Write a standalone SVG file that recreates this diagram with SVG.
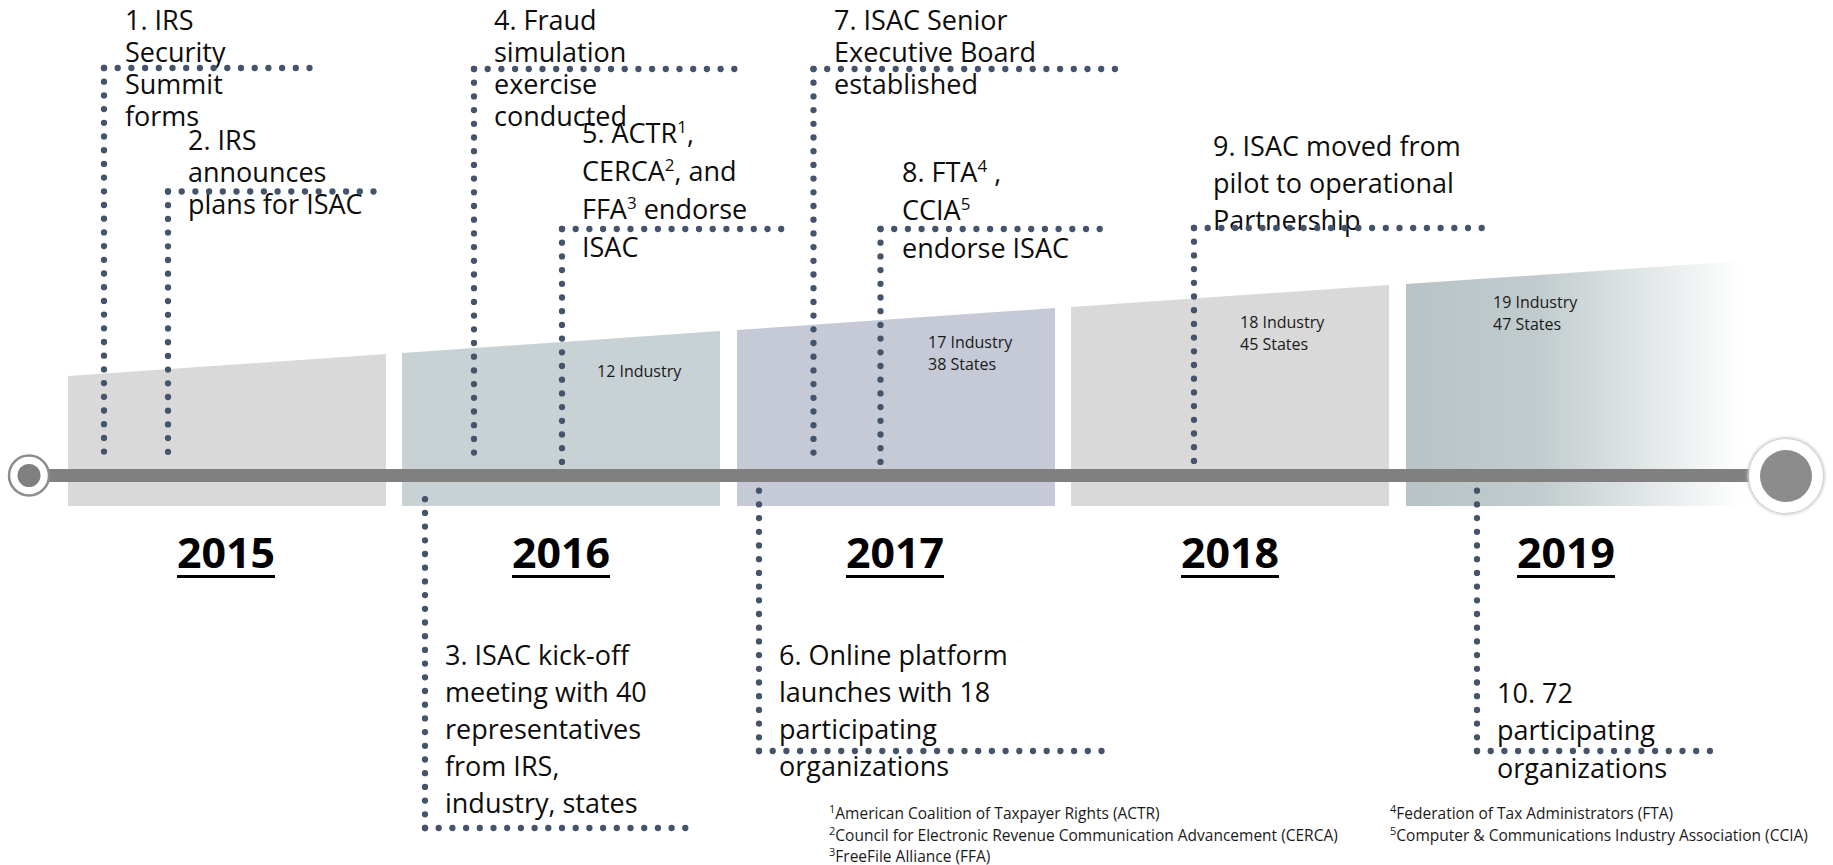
<svg xmlns="http://www.w3.org/2000/svg" width="1833" height="865" viewBox="0 0 1833 865">
  <style>
    .ev { font-family: "Open Sans", "Liberation Sans", sans-serif; font-size: 27px; fill: #0d0d0d; }
    .sup { font-size: 17px; }
    .cnt { font-family: "Open Sans", "Liberation Sans", sans-serif; font-size: 16px; fill: #1a1a1a; }
    .yr { font-family: "Open Sans", "Liberation Sans", sans-serif; font-size: 42px; font-weight: 700; fill: #000; }
    .fn { font-family: "Open Sans", "Liberation Sans", sans-serif; font-size: 15.5px; fill: #1a1a1a; }
    .fsup { font-size: 11px; }
    .dot { fill: none; stroke: #44546A; stroke-width: 6.3; stroke-linecap: round; stroke-dasharray: 0 13.7; }
  </style>
  <defs>
    <linearGradient id="fade2019" x1="0" y1="0" x2="1" y2="0">
      <stop offset="0" stop-color="#b7c3c6"/>
      <stop offset="0.4" stop-color="#c2ccce"/>
      <stop offset="0.72" stop-color="#e2e7e8"/>
      <stop offset="1" stop-color="#ffffff"/>
    </linearGradient>
    <filter id="soft" x="-20%" y="-20%" width="140%" height="140%">
      <feGaussianBlur stdDeviation="1.8"/>
    </filter>
  </defs>

  <rect width="1833" height="865" fill="#ffffff"/>

  <!-- yearly panels with rising top edge -->
  <g id="panels">
    <polygon points="68,376 386,354 386,506 68,506" fill="#d9d9d9"/>
    <polygon points="402,353 720,331 720,506 402,506" fill="#c8d2d5"/>
    <polygon points="737,330 1055,308 1055,506 737,506" fill="#c5cad6"/>
    <polygon points="1071,307 1389,285 1389,506 1071,506" fill="#d9d9d9"/>
    <polygon points="1406,284 1742,261 1742,506 1406,506" fill="url(#fade2019)"/>
  </g>

  <!-- panel counts -->
  <g id="counts">
    <text class="cnt" x="597" y="377">12 Industry</text>
    <text class="cnt" x="928" y="348">17 Industry</text>
    <text class="cnt" x="928" y="370">38 States</text>
    <text class="cnt" x="1240" y="328">18 Industry</text>
    <text class="cnt" x="1240" y="350">45 States</text>
    <text class="cnt" x="1493" y="308">19 Industry</text>
    <text class="cnt" x="1493" y="330">47 States</text>
  </g>

  <!-- timeline axis -->
  <g id="axis">
    <rect x="40" y="469" width="1720" height="13" fill="#808080"/>
    <circle cx="29" cy="475.5" r="20" fill="#ffffff" stroke="#8c8c8c" stroke-width="2.5"/>
    <circle cx="29" cy="475.5" r="11.5" fill="#808080"/>
    <circle cx="1786" cy="476" r="38.8" fill="#c8c8c8" filter="url(#soft)"/>
    <circle cx="1786" cy="476" r="37" fill="#ffffff"/>
    <circle cx="1786" cy="476" r="26" fill="#8c8c8c"/>
  </g>

  <!-- year labels -->
  <g id="years">
    <text class="yr" x="177" y="568" textLength="98" lengthAdjust="spacingAndGlyphs">2015</text>
    <rect x="177" y="575" width="98" height="3" fill="#000"/>
    <text class="yr" x="512" y="568" textLength="98" lengthAdjust="spacingAndGlyphs">2016</text>
    <rect x="512" y="575" width="98" height="3" fill="#000"/>
    <text class="yr" x="846" y="568" textLength="98" lengthAdjust="spacingAndGlyphs">2017</text>
    <rect x="846" y="575" width="98" height="3" fill="#000"/>
    <text class="yr" x="1181" y="568" textLength="98" lengthAdjust="spacingAndGlyphs">2018</text>
    <rect x="1181" y="575" width="98" height="3" fill="#000"/>
    <text class="yr" x="1517" y="568" textLength="98" lengthAdjust="spacingAndGlyphs">2019</text>
    <rect x="1517" y="575" width="98" height="3" fill="#000"/>
  </g>

  <!-- milestone events -->
  <g id="event1">
    <text class="ev" x="125" y="29.5">1. IRS</text>
    <text class="ev" x="125" y="61.5">Security</text>
    <text class="ev" x="125" y="93.5">Summit</text>
    <text class="ev" x="125" y="125.5">forms</text>
  </g>
  <g id="event2">
    <text class="ev" x="188" y="150">2. IRS</text>
    <text class="ev" x="188" y="182">announces</text>
    <text class="ev" x="188" y="214">plans for ISAC</text>
  </g>
  <g id="event3">
    <text class="ev" x="445" y="665">3. ISAC kick-off</text>
    <text class="ev" x="445" y="702">meeting with 40</text>
    <text class="ev" x="445" y="739">representatives</text>
    <text class="ev" x="445" y="776">from IRS,</text>
    <text class="ev" x="445" y="813">industry, states</text>
  </g>
  <g id="event4">
    <text class="ev" x="494" y="29.5">4. Fraud</text>
    <text class="ev" x="494" y="61.5">simulation</text>
    <text class="ev" x="494" y="93.5">exercise</text>
    <text class="ev" x="494" y="125.5">conducted</text>
  </g>
  <g id="event5">
    <text class="ev" x="582" y="143">5. ACTR<tspan class="sup" dy="-10">1</tspan><tspan dy="10">,</tspan></text>
    <text class="ev" x="582" y="181">CERCA<tspan class="sup" dy="-10">2</tspan><tspan dy="10">, and</tspan></text>
    <text class="ev" x="582" y="219">FFA<tspan class="sup" dy="-10">3</tspan><tspan dy="10"> endorse</tspan></text>
    <text class="ev" x="582" y="257">ISAC</text>
  </g>
  <g id="event6">
    <text class="ev" x="779" y="665">6. Online platform</text>
    <text class="ev" x="779" y="702">launches with 18</text>
    <text class="ev" x="779" y="739">participating</text>
    <text class="ev" x="779" y="776">organizations</text>
  </g>
  <g id="event7">
    <text class="ev" x="834" y="29.5">7. ISAC Senior</text>
    <text class="ev" x="834" y="61.5">Executive Board</text>
    <text class="ev" x="834" y="93.5">established</text>
  </g>
  <g id="event8">
    <text class="ev" x="902" y="182">8. FTA<tspan class="sup" dy="-10">4</tspan><tspan dy="10"> ,</tspan></text>
    <text class="ev" x="902" y="220">CCIA<tspan class="sup" dy="-10">5</tspan></text>
    <text class="ev" x="902" y="258">endorse ISAC</text>
  </g>
  <g id="event9">
    <text class="ev" x="1213" y="156">9. ISAC moved from</text>
    <text class="ev" x="1213" y="193">pilot to operational</text>
    <text class="ev" x="1213" y="230">Partnership</text>
  </g>
  <g id="event10">
    <text class="ev" x="1497" y="703">10. 72</text>
    <text class="ev" x="1497" y="740">participating</text>
    <text class="ev" x="1497" y="778">organizations</text>
  </g>

  <!-- dotted leaders from the axis to each milestone -->
  <g id="connectors">
    <path class="dot" d="M104,68 H310"/><path class="dot" d="M104,68 V465"/>
    <path class="dot" d="M168,191.5 H387"/><path class="dot" d="M168,191.5 V465"/>
    <path class="dot" d="M474,69 H748"/><path class="dot" d="M474,69 V465"/>
    <path class="dot" d="M562,229 H783"/><path class="dot" d="M562,229 V465"/>
    <path class="dot" d="M813.5,69 H1117"/><path class="dot" d="M813.5,69 V465"/>
    <path class="dot" d="M880.5,229 H1101"/><path class="dot" d="M880.5,229 V465"/>
    <path class="dot" d="M1194,228 H1485"/><path class="dot" d="M1194,228 V465"/>
    <path class="dot" d="M425,828 H688"/><path class="dot" d="M425,828 V487"/>
    <path class="dot" d="M759,751 H1102"/><path class="dot" d="M759,751 V484"/>
    <path class="dot" d="M1477,751 H1711"/><path class="dot" d="M1477,751 V484"/>
  </g>

  <!-- footnotes -->
  <g id="footnotes">
    <text class="fn" x="829" y="819"><tspan class="fsup" dy="-6">1</tspan><tspan dy="6">American Coalition of Taxpayer Rights (ACTR)</tspan></text>
    <text class="fn" x="829" y="840.5"><tspan class="fsup" dy="-6">2</tspan><tspan dy="6">Council for Electronic Revenue Communication Advancement (CERCA)</tspan></text>
    <text class="fn" x="829" y="862"><tspan class="fsup" dy="-6">3</tspan><tspan dy="6">FreeFile Alliance (FFA)</tspan></text>
    <text class="fn" x="1390" y="819"><tspan class="fsup" dy="-6">4</tspan><tspan dy="6">Federation of Tax Administrators (FTA)</tspan></text>
    <text class="fn" x="1390" y="840.5"><tspan class="fsup" dy="-6">5</tspan><tspan dy="6">Computer &amp; Communications Industry Association (CCIA)</tspan></text>
  </g>
</svg>
